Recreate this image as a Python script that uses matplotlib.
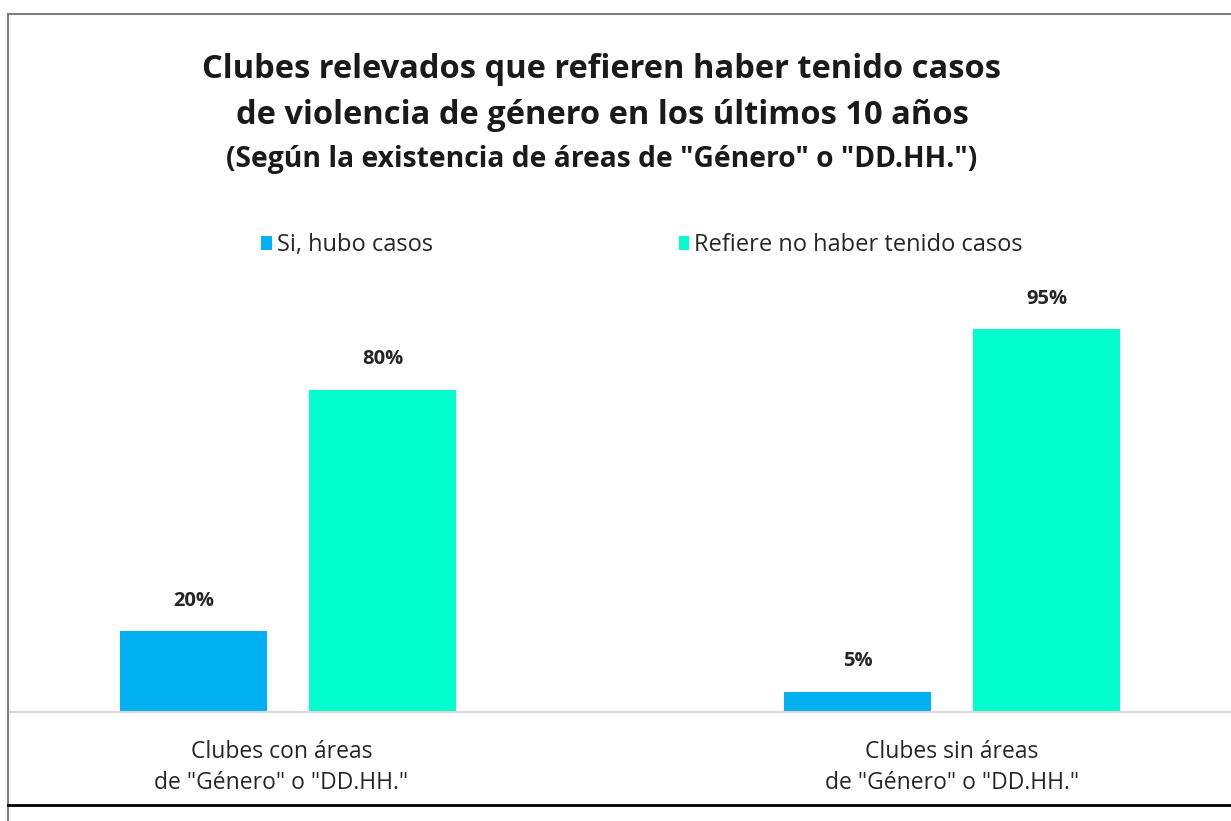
import matplotlib.pyplot as plt
from matplotlib.lines import Line2D
import numpy as np

plt.rcParams['font.family'] = ['Open Sans', 'DejaVu Sans']

# data
categorias = ['Clubes con áreas\nde "Género" o "DD.HH."',
              'Clubes sin áreas\nde "Género" o "DD.HH."']
si_casos = [20, 5]
no_casos = [80, 95]
series = ['Si, hubo casos', 'Refiere no haber tenido casos']
colores = ['#00b0f0', '#00ffcc']

W, H = 1231, 821
fig = plt.figure(figsize=(W / 100, H / 100), dpi=100)

# axes: baseline at y=712px, 100% at y=309px, x from 8px to 1231px
ax = fig.add_axes([8 / W, 1 - 712 / H, (W - 8) / W, 403 / H])
x = np.arange(len(categorias))
w = 0.2214
off = 0.1423
b1 = ax.bar(x - off, si_casos, w, color=colores[0], label=series[0])
b2 = ax.bar(x + off, no_casos, w, color=colores[1], label=series[1])
ax.set_ylim(0, 100)
ax.set_xlim(-0.4217, 1.420)
for s in ax.spines.values():
    s.set_visible(False)
ax.set_yticks([])
ax.set_xticks([])
ax.axhline(0, color='#d9d9d9', lw=1.5, clip_on=False)

for bars in (b1, b2):
    for r in bars:
        v = r.get_height()
        ax.annotate(f'{v:.0f}%', (r.get_x() + r.get_width() / 2, v),
                    xytext=(0, 22), textcoords='offset points',
                    ha='center', va='center', fontsize=14.5, fontweight='bold',
                    color='#262626')

for i, c in enumerate(categorias):
    ax.text(i - 0.01 * (1 - i), -7, c, ha='center', va='top', fontsize=16.5,
            color='#262626', linespacing=1.35)

# titles
fig.text(602 / W, 1 - 70 / H, 'Clubes relevados que refieren haber tenido casos',
         ha='center', va='center', fontsize=23.5, fontweight='bold', color='#1a1a1a')
fig.text(602 / W, 1 - 115 / H, 'de violencia de género en los últimos 10 años',
         ha='center', va='center', fontsize=23.5, fontweight='bold', color='#1a1a1a')
fig.text(602 / W, 1 - 160 / H, '(Según la existencia de áreas de "Género" o "DD.HH.")',
         ha='center', va='center', fontsize=20.3, fontweight='bold', color='#1a1a1a')

# legend
ax.legend(loc='center', bbox_to_anchor=(642 / W, 1 - 245 / H),
          bbox_transform=fig.transFigure, ncol=2, frameon=False, fontsize=17,
          handlelength=0.45, handleheight=0.55, handletextpad=0.2,
          columnspacing=10.4, labelcolor='#262626')

# frame
fig.add_artist(Line2D([8 / W, 1], [1 - 14 / H, 1 - 14 / H], color='#7f7f7f', lw=1.5))
fig.add_artist(Line2D([8 / W, 8 / W], [0, 1 - 14 / H], color='#7f7f7f', lw=1.5))
fig.add_artist(Line2D([8 / W, 1], [1 - 805 / H, 1 - 805 / H], color='black', lw=2))

fig.savefig('out.png', dpi=100, facecolor='white')
